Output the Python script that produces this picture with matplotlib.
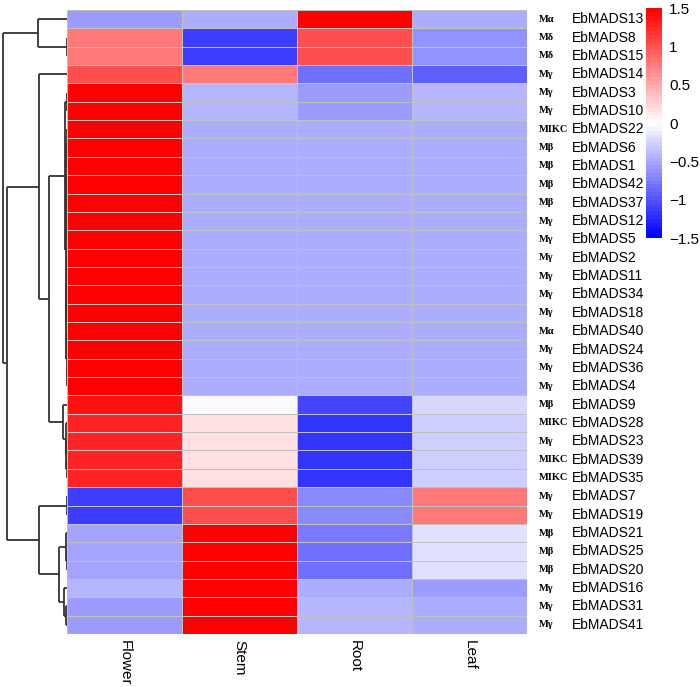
import numpy as np
import matplotlib
matplotlib.use("Agg")
import matplotlib.pyplot as plt
from matplotlib.colors import LinearSegmentedColormap

tissues = ["Flower", "Stem", "Root", "Leaf"]
genes = ["EbMADS13", "EbMADS8", "EbMADS15", "EbMADS14", "EbMADS3", "EbMADS10",
         "EbMADS22", "EbMADS6", "EbMADS1", "EbMADS42", "EbMADS37", "EbMADS12",
         "EbMADS5", "EbMADS2", "EbMADS11", "EbMADS34", "EbMADS18", "EbMADS40",
         "EbMADS24", "EbMADS36", "EbMADS4", "EbMADS9", "EbMADS28", "EbMADS23",
         "EbMADS39", "EbMADS35", "EbMADS7", "EbMADS19", "EbMADS21", "EbMADS25",
         "EbMADS20", "EbMADS16", "EbMADS31", "EbMADS41"]
groups = ["Mα", "Mδ", "Mδ", "Mγ", "Mγ", "Mγ", "MIKC", "Mβ", "Mβ", "Mβ", "Mβ",
          "Mγ", "Mγ", "Mγ", "Mγ", "Mγ", "Mγ", "Mα", "Mγ", "Mγ", "Mγ", "Mβ",
          "MIKC", "Mγ", "MIKC", "MIKC", "Mγ", "Mγ", "Mβ", "Mβ", "Mβ", "Mγ",
          "Mγ", "Mγ"]

# row z-scores, columns: Flower, Stem, Root, Leaf
flower = [-0.60, 0.75, 0.75, 1.00, 1.50, 1.50, 1.50, 1.50, 1.50, 1.50, 1.50,
          1.50, 1.50, 1.50, 1.50, 1.50, 1.50, 1.50, 1.50, 1.50, 1.50, 1.35,
          1.27, 1.27, 1.27, 1.27, -1.10, -1.10, -0.55, -0.55, -0.55, -0.44,
          -0.58, -0.60]
stem = [-0.47, -1.10, -1.10, 0.75, -0.45, -0.45, -0.50, -0.50, -0.50, -0.50,
        -0.50, -0.50, -0.50, -0.50, -0.50, -0.50, -0.50, -0.50, -0.50, -0.50,
        -0.50, -0.05, 0.18, 0.18, 0.18, 0.18, 1.00, 1.00, 1.50, 1.50, 1.50,
        1.50, 1.50, 1.50]
root = [1.50, 1.00, 1.00, -0.85, -0.60, -0.60, -0.50, -0.50, -0.50, -0.50,
        -0.50, -0.50, -0.50, -0.50, -0.50, -0.50, -0.50, -0.50, -0.50, -0.50,
        -0.50, -1.08, -1.20, -1.20, -1.20, -1.20, -0.70, -0.70, -0.78, -0.80,
        -0.80, -0.50, -0.45, -0.45]
leaf = [-0.47, -0.62, -0.62, -0.90, -0.45, -0.45, -0.50, -0.50, -0.50, -0.50,
        -0.50, -0.50, -0.50, -0.50, -0.50, -0.50, -0.50, -0.50, -0.50, -0.50,
        -0.50, -0.25, -0.26, -0.26, -0.26, -0.26, 0.75, 0.75, -0.17, -0.17,
        -0.17, -0.58, -0.50, -0.47]

cb_ticks = [-1.5, -1, -0.5, 0, 0.5, 1, 1.5]
cb_labels = ["\u22121.5", "\u22121", "\u22120.5", "0", "0.5", "1", "1.5"]

# dendrogram merges (height, left, right); leaves are row indices
tight = (1.2, (0.8, (0.5, 6, (0.3, 7, 8)), (0.5, (0.3, 9, 10), (0.3, 11, 12))),
         (0.8, (0.5, (0.3, 13, 14), (0.3, 15, 16)), (0.5, (0.3, 17, 18), (0.3, 19, 20))))
c1 = (2, (0.5, 4, 5), tight)
c2 = (4, 21, (1, 22, (0.6, 23, (0.3, 24, 25))))
b1 = (28, 3, (18, c1, c2))
b2 = (28, (0.3, 26, 27), (8, (1.0, 28, (0.5, 29, 30)), (3, 31, (0.6, 32, 33))))
tree = (64, (29, 0, (0.3, 1, 2)), (60, b1, b2))

data = np.array([flower, stem, root, leaf]).T
n = len(genes)

cmap = LinearSegmentedColormap.from_list("bwr2", ["#0000ff", "#ffffff", "#ff0000"], N=60)

fig = plt.figure(figsize=(7, 6.87), dpi=100)
W, H = 700, 687


def box(x0, y0, x1, y1):
    return [x0 / W, 1 - y1 / H, (x1 - x0) / W, (y1 - y0) / H]


ax = fig.add_axes(box(67, 10, 527, 634))
mesh = ax.pcolormesh(data, cmap=cmap, vmin=-1.5, vmax=1.5,
                     edgecolors="#c0c0c0", linewidth=0.5)
ax.set_xlim(0, 4)
ax.set_ylim(n, 0)
ax.set_xticks([])
ax.set_yticks([])
for s in ax.spines.values():
    s.set_visible(False)

ytr = ax.get_yaxis_transform()
for i in range(n):
    ax.text(1.026, i + 0.5, groups[i], transform=ytr, va="center", ha="left",
            fontsize=7.5, fontweight="bold", family="Liberation Serif")
    ax.text(1.098, i + 0.5, genes[i], transform=ytr, va="center", ha="left",
            fontsize=10, family="Liberation Sans")

xtr = ax.get_xaxis_transform()
for j, t in enumerate(tissues):
    ax.text(j + 0.5, -0.009, t, transform=xtr, rotation=270, va="top",
            ha="center", fontsize=11, family="Liberation Sans")

# dendrogram
dax = fig.add_axes(box(0, 10, 67, 634))
dax.set_xlim(67, 0)
dax.set_ylim(n, 0)
dax.axis("off")


def draw(node):
    if isinstance(node, int):
        return node + 0.5, 0
    h, left, right = node
    yl, hl = draw(left)
    yr, hr = draw(right)
    kw = dict(color="#333333", lw=1.3, solid_capstyle="butt")
    dax.plot([h, h], [yl, yr], **kw)
    dax.plot([hl, h], [yl, yl], **kw)
    dax.plot([hr, h], [yr, yr], **kw)
    return (yl + yr) / 2, h


draw(tree)

# colour key
cax = fig.add_axes(box(646, 8, 662, 238))
cb = fig.colorbar(mesh, cax=cax, ticks=cb_ticks)
cb.set_ticklabels(cb_labels)
cb.outline.set_visible(False)
cax.tick_params(length=0, pad=5, labelsize=11)
for lab in cax.get_yticklabels():
    lab.set_family("Liberation Sans")

fig.savefig("out.png", dpi=100, facecolor="white")
